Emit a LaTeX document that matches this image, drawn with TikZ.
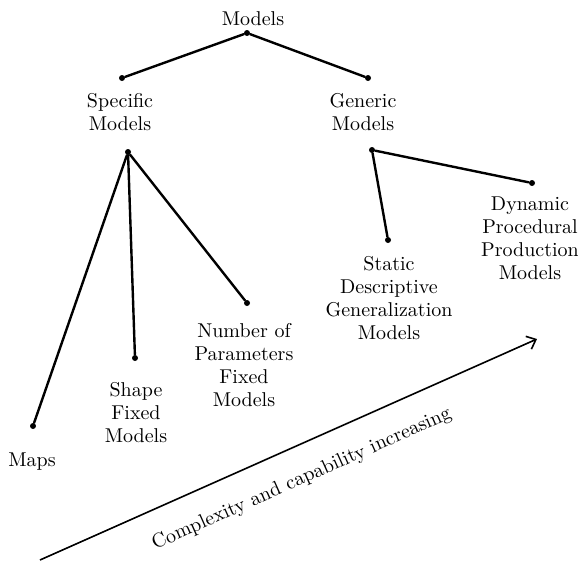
\documentclass[tikz,border=0pt]{standalone}
\usepackage{amsmath,amssymb}
\usepackage{tikz}
\usetikzlibrary{positioning}
\usetikzlibrary{arrows.meta}

\begin{document}
\begin{tikzpicture}[x=0.5pt,y=-0.5pt,font=\fontsize{10}{11.5}\selectfont,
    treedot/.style={circle,fill,inner sep=0pt,minimum size=3pt},
    branch/.style={line width=1.2pt,line cap=round},
    label/.style={align=center,inner sep=0pt}]
  \useasboundingbox (0,0) rectangle (578,562);
  % the dots
  \node[treedot] (root)   at (247,33)  {};
  \node[treedot] (spec)   at (122,78)  {};
  \node[treedot] (gen)    at (368,78)  {};
  \node[treedot] (specB)  at (128,152) {};
  \node[treedot] (genB)   at (372,150) {};
  \node[treedot] (maps)   at (33,426)  {};
  \node[treedot] (shape)  at (135,358) {};
  \node[treedot] (number) at (247,303) {};
  \node[treedot] (static) at (388,240) {};
  \node[treedot] (dyn)    at (532,183) {};
  % the texts
  \node[label] (tModels) at (253,18.5) {Models};
  \node[label] (tSpec)   at (120,112) {Specific\\Models};
  \node[label] (tGen)    at (363,112) {Generic\\Models};
  \node[label] (tMaps)   at (32,462)  {Maps};
  \node[label] (tShape)  at (136,413) {Shape\\Fixed\\Models};
  \node[label] (tNumber) at (244,365) {Number of\\Parameters\\Fixed\\Models};
  \node[label] (tStatic) at (389,298) {Static\\Descriptive\\Generalization\\Models};
  \node[label] (tDyn)    at (530,238) {Dynamic\\Procedural\\Production\\Models};
\path[branch] (root) edge (spec)
  (root) edge (gen)
  (specB) edge (maps)
  (specB) edge (shape)
  (specB) edge (number)
  (genB) edge (static)
  (genB) edge (dyn);
	% Draw arrow
  \coordinate (low) at (40,560);
  \coordinate (high) at (537,339);
    \draw[-{Straight Barb[length=4pt,width=7pt]},line width=0.8pt] (low) -- (high)
      node[midway,sloped,below=8pt] (tArrow) {Complexity and capability increasing};
\end{tikzpicture}
\end{document}
